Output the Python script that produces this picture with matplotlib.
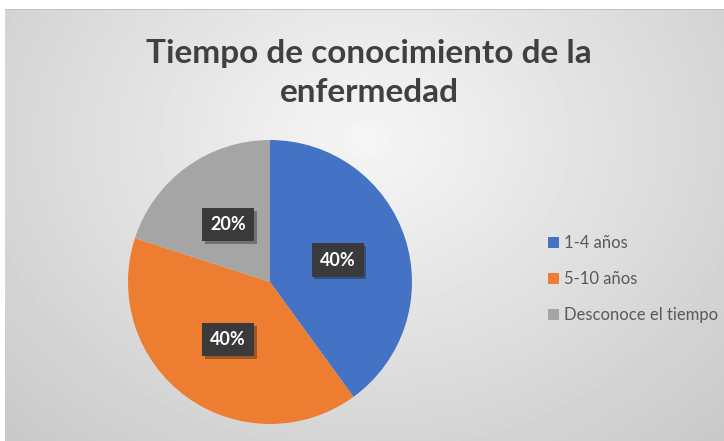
import matplotlib
matplotlib.use('Agg')
import matplotlib.pyplot as plt
import matplotlib.patheffects as pe
import numpy as np

plt.rcParams['font.family'] = ['Lato', 'DejaVu Sans']

# data
categorias = ['1-4 años', '5-10 años', 'Desconoce el tiempo']
porcentajes = [40, 40, 20]
colores = ['#4472C4', '#ED7D31', '#A5A5A5']
titulo = 'Tiempo de conocimiento de la\nenfermedad'

fig = plt.figure(figsize=(7.24, 4.41), dpi=100)
fig.patch.set_facecolor('white')

# chart area background with radial gradient, like the Excel style
bg = fig.add_axes([5 / 724, 0, 719 / 724, 432 / 441])
yy, xx = np.mgrid[0:432, 0:719]
dist = np.sqrt(((xx - 360) / 520) ** 2 + ((yy - 130) / 420) ** 2)
dist = np.clip(dist, 0, 1)
shade = 0.965 - 0.18 * dist
bg.imshow(shade, cmap='gray', vmin=0, vmax=1, aspect='auto',
          extent=(0, 1, 0, 1), origin='upper')
bg.set_xlim(0, 1)
bg.set_ylim(0, 1)
bg.axhline(1, color='#bfbfbf', lw=1.2)
bg.axis('off')

fig.text(0.51, 0.912, titulo, ha='center', va='top', fontsize=24,
         fontweight='bold', color='#404040', linespacing=1.42)

ax = fig.add_axes([128 / 724, 1 - 424 / 441, 284 / 724, 284 / 441])
wedges, textos, autotextos = ax.pie(
    porcentajes, colors=colores, startangle=90, counterclock=False,
    autopct='%1.0f%%', pctdistance=0.5, radius=1,
    wedgeprops=dict(linewidth=0))
for t in autotextos:
    t.set_color('white')
    t.set_fontsize(13)
    t.set_fontweight('bold')
    t.set_bbox(dict(boxstyle='square,pad=0.45', facecolor='#3a3a3a',
                    edgecolor='none'))
    t.get_bbox_patch().set_path_effects(
        [pe.withSimplePatchShadow(offset=(2, -2), alpha=0.35)])
ax.set_xlim(-1, 1)
ax.set_ylim(-1, 1)
ax.set_aspect('auto')

fig.legend(wedges, categorias, loc='center left',
           bbox_to_anchor=(533 / 724, 1 - 279 / 441), frameon=False,
           fontsize=12, labelcolor='#595959', handlelength=0.65,
           handleheight=0.65, handletextpad=0.3, labelspacing=1.2)

fig.savefig('out.png', dpi=100)
